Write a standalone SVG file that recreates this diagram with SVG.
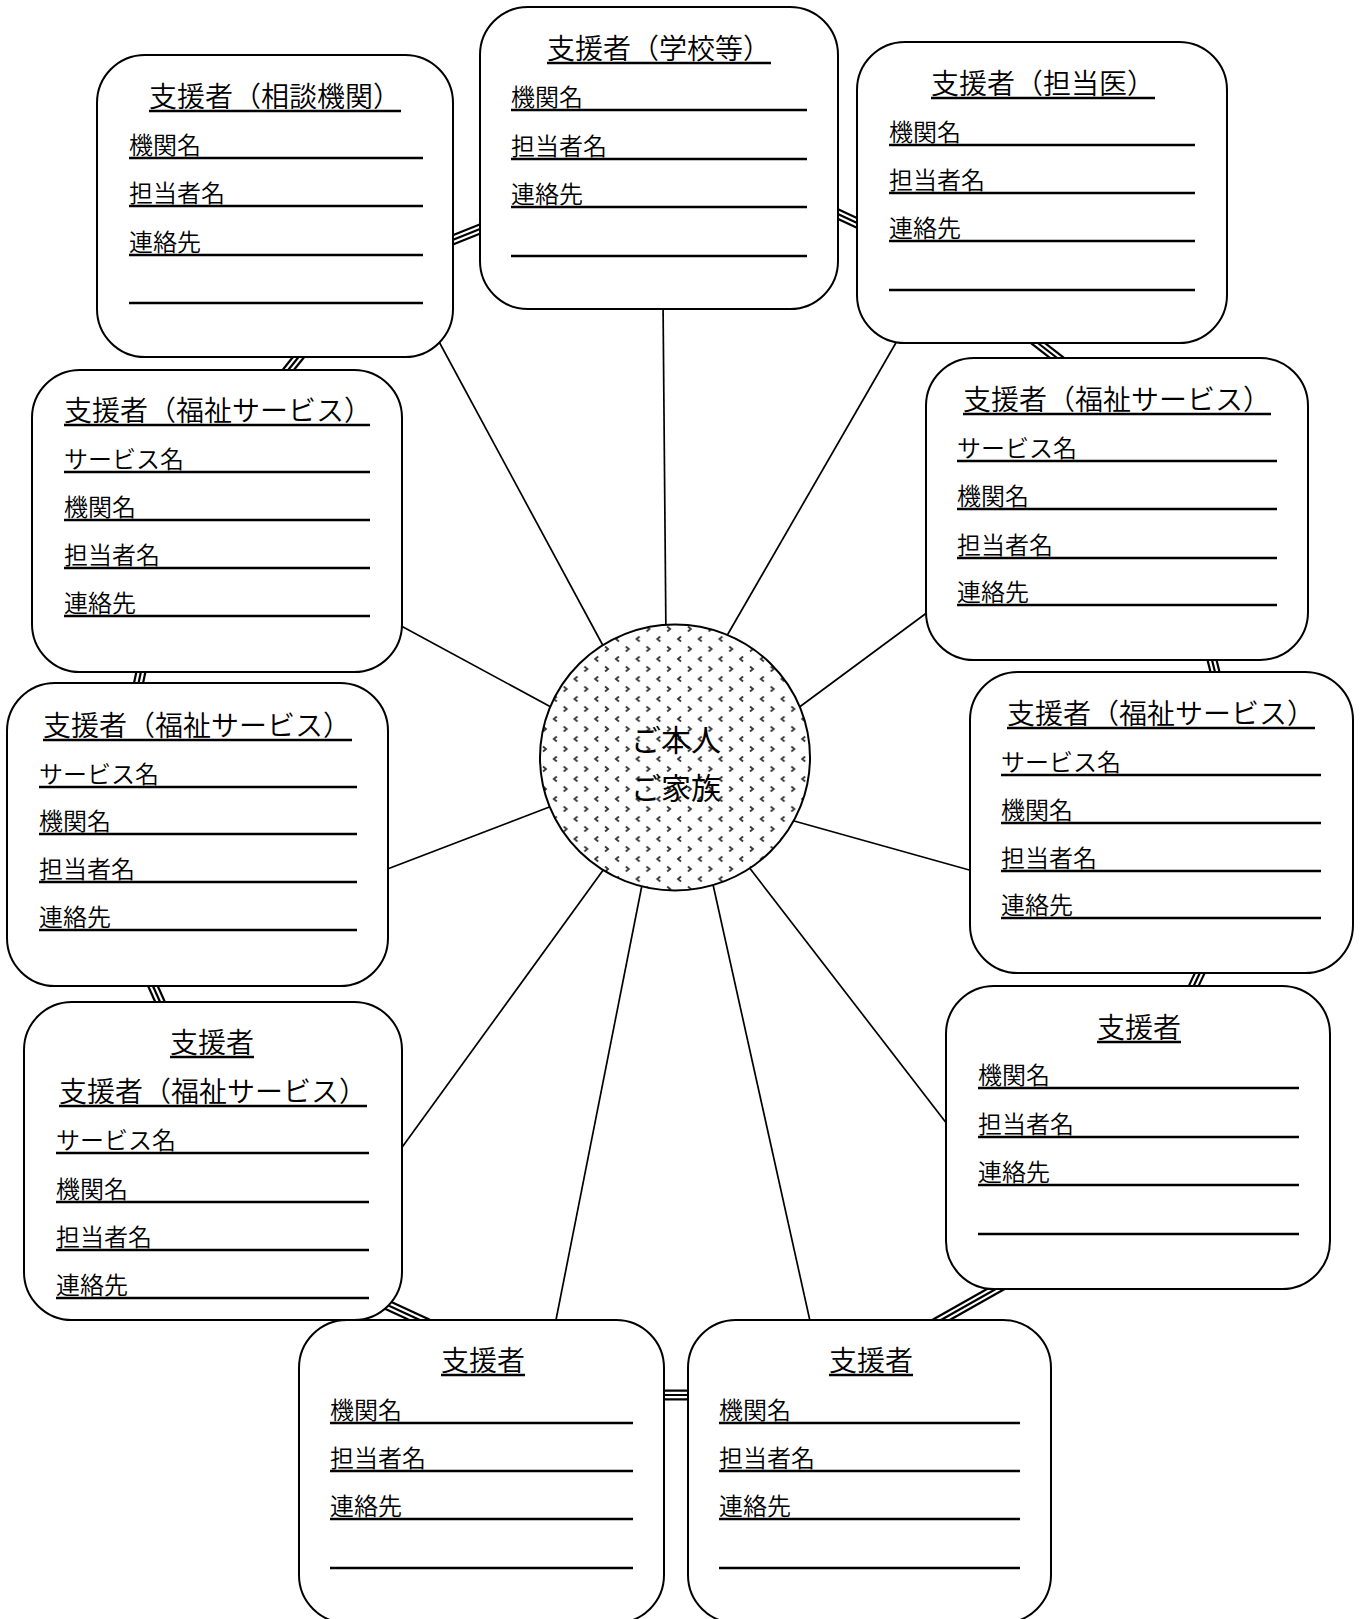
<svg xmlns="http://www.w3.org/2000/svg" xmlns:xlink="http://www.w3.org/1999/xlink" width="1362" height="1619" viewBox="0 0 1362 1619">
<style>
.box{fill:#fff;stroke:#000;stroke-width:2}
.t{font-family:"Noto Sans CJK JP","Noto Sans CJK SC",sans-serif;font-size:28px;font-weight:350;fill:#000}
.l{font-family:"Noto Sans CJK JP","Noto Sans CJK SC",sans-serif;font-size:24px;font-weight:350;fill:#000}
.c{font-family:"Noto Sans CJK JP","Noto Sans CJK SC",sans-serif;font-size:30px;font-weight:400;fill:#000;text-anchor:middle}
.u{stroke:#000;stroke-width:2.5}
.spoke{stroke:#000;stroke-width:1.7;fill:none}
.r1{stroke:#000;stroke-width:11;fill:none}
.r2{stroke:#fff;stroke-width:6.6;fill:none}
.r3{stroke:#000;stroke-width:2.2;fill:none}
</style>
<defs>
<pattern id="dots" patternUnits="userSpaceOnUse" width="20.7" height="20" x="540" y="624">
<rect width="20.7" height="20" fill="#fff"/>
<path d="M3,2.5 L6,5 L3,7.5" fill="none" stroke="#333" stroke-width="1.8"/>
<path d="M16.8,12.5 L13.8,15 L16.8,17.5" fill="none" stroke="#333" stroke-width="1.8"/>
</pattern>
<g id="ring">
<line x1="440" y1="245" x2="495" y2="223"/>
<line x1="825" y1="208" x2="870" y2="229"/>
<line x1="1025" y1="333" x2="1070" y2="368"/>
<line x1="1209" y1="648" x2="1218" y2="684"/>
<line x1="1205" y1="962" x2="1188" y2="998"/>
<line x1="925" y1="1329" x2="1010" y2="1281"/>
<line x1="650" y1="1395" x2="700" y2="1395"/>
<line x1="370" y1="1297" x2="435" y2="1327"/>
<line x1="148" y1="975" x2="165" y2="1013"/>
<line x1="143" y1="662" x2="136" y2="695"/>
<line x1="305" y1="349" x2="281" y2="379"/>
</g>
</defs>
<rect width="1362" height="1619" fill="#fff"/>
<g id="connectors">
<use xlink:href="#ring" href="#ring" class="r1"/>
<use xlink:href="#ring" href="#ring" class="r2"/>
<use xlink:href="#ring" href="#ring" class="r3"/>
<line class="spoke" x1="430" y1="325" x2="607" y2="653"/>
<line class="spoke" x1="663" y1="300" x2="666" y2="640"/>
<line class="spoke" x1="901" y1="334" x2="721" y2="646"/>
<line class="spoke" x1="936" y1="606" x2="790" y2="714"/>
<line class="spoke" x1="980" y1="873" x2="787" y2="819"/>
<line class="spoke" x1="954" y1="1133" x2="745" y2="862"/>
<line class="spoke" x1="812" y1="1330" x2="712" y2="880"/>
<line class="spoke" x1="554" y1="1330" x2="643" y2="880"/>
<line class="spoke" x1="395" y1="1157" x2="609" y2="862"/>
<line class="spoke" x1="377" y1="873" x2="565" y2="801"/>
<line class="spoke" x1="392" y1="621" x2="562" y2="713"/>
</g>
<g id="center">
<ellipse cx="675" cy="757.5" rx="135" ry="133" fill="url(#dots)" stroke="#000" stroke-width="2"/>
<text class="c" x="676" y="751">ご本人</text>
<text class="c" x="676" y="799">ご家族</text>
</g>
<g id="box-soudan">
<rect class="box" x="97" y="55" width="356" height="302" rx="48"/>
<text class="t" x="149" y="107">支援者（相談機関）</text>
<line class="u" x1="149" y1="111" x2="401" y2="111"/>
<text class="l" x="129" y="154">機関名</text><line class="u" x1="129" y1="158" x2="423" y2="158"/>
<text class="l" x="129" y="202">担当者名</text><line class="u" x1="129" y1="206" x2="423" y2="206"/>
<text class="l" x="129" y="251">連絡先</text><line class="u" x1="129" y1="255" x2="423" y2="255"/>
<line class="u" x1="129" y1="303" x2="423" y2="303"/>
</g>
<g id="box-gakkou">
<rect class="box" x="480" y="7" width="358" height="302" rx="48"/>
<text class="t" x="547" y="59">支援者（学校等）</text>
<line class="u" x1="547" y1="63" x2="771" y2="63"/>
<text class="l" x="511" y="106">機関名</text><line class="u" x1="511" y1="110" x2="807" y2="110"/>
<text class="l" x="511" y="155">担当者名</text><line class="u" x1="511" y1="159" x2="807" y2="159"/>
<text class="l" x="511" y="203">連絡先</text><line class="u" x1="511" y1="207" x2="807" y2="207"/>
<line class="u" x1="511" y1="256" x2="807" y2="256"/>
</g>
<g id="box-tantoui">
<rect class="box" x="857" y="42" width="370" height="301" rx="48"/>
<text class="t" x="931" y="94">支援者（担当医）</text>
<line class="u" x1="931" y1="98" x2="1155" y2="98"/>
<text class="l" x="889" y="141">機関名</text><line class="u" x1="889" y1="145" x2="1195" y2="145"/>
<text class="l" x="889" y="189">担当者名</text><line class="u" x1="889" y1="193" x2="1195" y2="193"/>
<text class="l" x="889" y="237">連絡先</text><line class="u" x1="889" y1="241" x2="1195" y2="241"/>
<line class="u" x1="889" y1="290" x2="1195" y2="290"/>
</g>
<g id="box-fukushi-1">
<rect class="box" x="32" y="370" width="370" height="302" rx="48"/>
<text class="t" x="64" y="421">支援者（福祉サービス）</text>
<line class="u" x1="64" y1="425" x2="370" y2="425"/>
<text class="l" x="64" y="468">サービス名</text><line class="u" x1="64" y1="472" x2="370" y2="472"/>
<text class="l" x="64" y="516">機関名</text><line class="u" x1="64" y1="520" x2="370" y2="520"/>
<text class="l" x="64" y="564">担当者名</text><line class="u" x1="64" y1="568" x2="370" y2="568"/>
<text class="l" x="64" y="612">連絡先</text><line class="u" x1="64" y1="616" x2="370" y2="616"/>
</g>
<g id="box-fukushi-2">
<rect class="box" x="926" y="358" width="382" height="302" rx="48"/>
<text class="t" x="963" y="410">支援者（福祉サービス）</text>
<line class="u" x1="963" y1="414" x2="1271" y2="414"/>
<text class="l" x="957" y="457">サービス名</text><line class="u" x1="957" y1="461" x2="1277" y2="461"/>
<text class="l" x="957" y="505">機関名</text><line class="u" x1="957" y1="509" x2="1277" y2="509"/>
<text class="l" x="957" y="554">担当者名</text><line class="u" x1="957" y1="558" x2="1277" y2="558"/>
<text class="l" x="957" y="601">連絡先</text><line class="u" x1="957" y1="605" x2="1277" y2="605"/>
</g>
<g id="box-fukushi-3">
<rect class="box" x="7" y="683" width="381" height="303" rx="48"/>
<text class="t" x="43" y="736">支援者（福祉サービス）</text>
<line class="u" x1="43" y1="740" x2="352" y2="740"/>
<text class="l" x="39" y="783">サービス名</text><line class="u" x1="39" y1="787" x2="357" y2="787"/>
<text class="l" x="39" y="830">機関名</text><line class="u" x1="39" y1="834" x2="357" y2="834"/>
<text class="l" x="39" y="878">担当者名</text><line class="u" x1="39" y1="882" x2="357" y2="882"/>
<text class="l" x="39" y="926">連絡先</text><line class="u" x1="39" y1="930" x2="357" y2="930"/>
</g>
<g id="box-fukushi-4">
<rect class="box" x="970" y="672" width="383" height="301" rx="48"/>
<text class="t" x="1007" y="724">支援者（福祉サービス）</text>
<line class="u" x1="1007" y1="728" x2="1315" y2="728"/>
<text class="l" x="1001" y="771">サービス名</text><line class="u" x1="1001" y1="775" x2="1321" y2="775"/>
<text class="l" x="1001" y="819">機関名</text><line class="u" x1="1001" y1="823" x2="1321" y2="823"/>
<text class="l" x="1001" y="867">担当者名</text><line class="u" x1="1001" y1="871" x2="1321" y2="871"/>
<text class="l" x="1001" y="914">連絡先</text><line class="u" x1="1001" y1="918" x2="1321" y2="918"/>
</g>
<g id="box-fukushi-5">
<rect class="box" x="24" y="1002" width="378" height="318" rx="48"/>
<text class="t" x="170" y="1053">支援者</text>
<line class="u" x1="170" y1="1057" x2="254" y2="1057"/>
<text class="t" x="59" y="1102">支援者（福祉サービス）</text>
<line class="u" x1="59" y1="1106" x2="367" y2="1106"/>
<text class="l" x="56" y="1149">サービス名</text><line class="u" x1="56" y1="1153" x2="369" y2="1153"/>
<text class="l" x="56" y="1198">機関名</text><line class="u" x1="56" y1="1202" x2="369" y2="1202"/>
<text class="l" x="56" y="1246">担当者名</text><line class="u" x1="56" y1="1250" x2="369" y2="1250"/>
<text class="l" x="56" y="1294">連絡先</text><line class="u" x1="56" y1="1298" x2="369" y2="1298"/>
</g>
<g id="box-shiensha-1">
<rect class="box" x="946" y="986" width="384" height="303" rx="48"/>
<text class="t" x="1097" y="1038">支援者</text>
<line class="u" x1="1097" y1="1042" x2="1181" y2="1042"/>
<text class="l" x="978" y="1084">機関名</text><line class="u" x1="978" y1="1088" x2="1299" y2="1088"/>
<text class="l" x="978" y="1133">担当者名</text><line class="u" x1="978" y1="1137" x2="1299" y2="1137"/>
<text class="l" x="978" y="1181">連絡先</text><line class="u" x1="978" y1="1185" x2="1299" y2="1185"/>
<line class="u" x1="978" y1="1234" x2="1299" y2="1234"/>
</g>
<g id="box-shiensha-2">
<rect class="box" x="299" y="1320" width="365" height="303" rx="48"/>
<text class="t" x="441" y="1371">支援者</text>
<line class="u" x1="441" y1="1375" x2="525" y2="1375"/>
<text class="l" x="330" y="1419">機関名</text><line class="u" x1="330" y1="1423" x2="633" y2="1423"/>
<text class="l" x="330" y="1467">担当者名</text><line class="u" x1="330" y1="1471" x2="633" y2="1471"/>
<text class="l" x="330" y="1515">連絡先</text><line class="u" x1="330" y1="1519" x2="633" y2="1519"/>
<line class="u" x1="330" y1="1568" x2="633" y2="1568"/>
</g>
<g id="box-shiensha-3">
<rect class="box" x="688" y="1320" width="363" height="303" rx="48"/>
<text class="t" x="829" y="1371">支援者</text>
<line class="u" x1="829" y1="1375" x2="913" y2="1375"/>
<text class="l" x="719" y="1419">機関名</text><line class="u" x1="719" y1="1423" x2="1020" y2="1423"/>
<text class="l" x="719" y="1467">担当者名</text><line class="u" x1="719" y1="1471" x2="1020" y2="1471"/>
<text class="l" x="719" y="1515">連絡先</text><line class="u" x1="719" y1="1519" x2="1020" y2="1519"/>
<line class="u" x1="719" y1="1568" x2="1020" y2="1568"/>
</g>
</svg>
